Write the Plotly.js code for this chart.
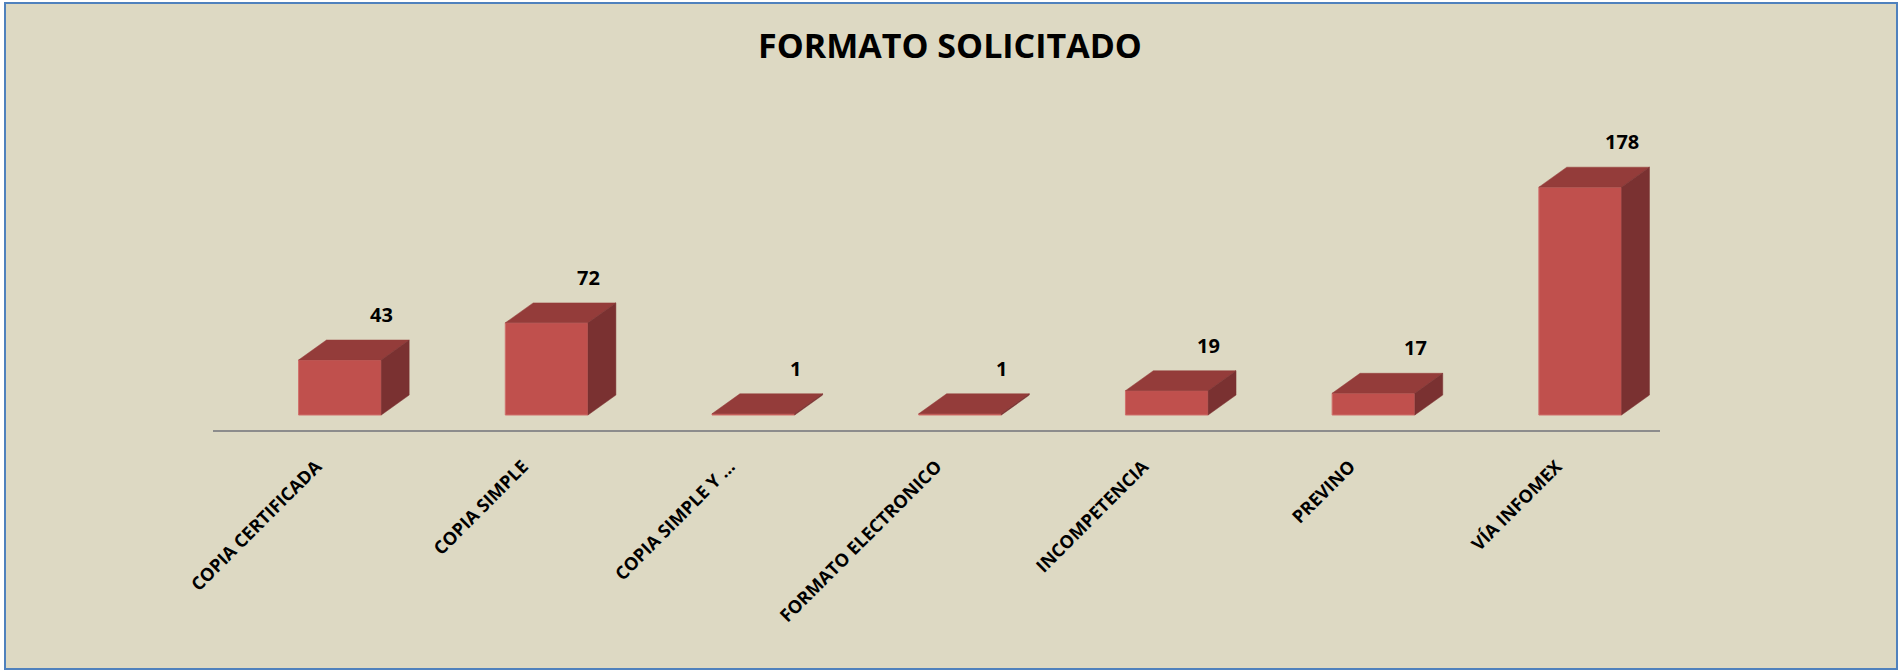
<!DOCTYPE html>
<html>
<head>
<meta charset="utf-8">
<script src="https://cdn.plot.ly/plotly-3.0.1.min.js"></script>
<style>
  html, body { margin: 0; padding: 0; background: #ffffff; }
  #frame { position: absolute; left: 4px; top: 2px; width: 1894px; height: 668px;
           box-sizing: border-box; border: 2px solid #4F81BD; background: #DDD9C3; }
  #chart { width: 1890px; height: 664px; }
</style>
</head>
<body>
<div id="frame"><div id="chart"></div></div>
<script>
// ---- data ----
const categories = ["COPIA CERTIFICADA", "COPIA SIMPLE", "COPIA SIMPLE Y ...", "FORMATO ELECTRONICO", "INCOMPETENCIA", "PREVINO", "VÍA INFOMEX"];
const values = [43, 72, 1, 1, 19, 17, 178];
const chartTitle = "FORMATO SOLICITADO";

// ---- 3D look parameters (in axis units) ----
const FRONT_OFFSET = 0.114;  // front face centre shift from category centre
const FRONT_WIDTH = 0.40;
const DEPTH_X = 0.135;
const DEPTH_Y = 15.6;

const idx = categories.map((_, i) => i);
const frontX = idx.map(i => i + FRONT_OFFSET);

const frontColor = "#C0504D", topColor = "#943C3A", sideColor = "#7A3131";

const topX = [], topY = [], sideX = [], sideY = [];
values.forEach((v, i) => {
  const x0 = frontX[i] - FRONT_WIDTH / 2, x1 = frontX[i] + FRONT_WIDTH / 2;
  topX.push(x0, x1, x1 + DEPTH_X, x0 + DEPTH_X, x0, null);
  topY.push(v, v, v + DEPTH_Y, v + DEPTH_Y, v, null);
  sideX.push(x1, x1 + DEPTH_X, x1 + DEPTH_X, x1, x1, null);
  sideY.push(0, DEPTH_Y, v + DEPTH_Y, v, 0, null);
});

const traces = [
  { type: "bar", x: frontX, y: values, width: FRONT_WIDTH,
    marker: { color: frontColor, line: { color: "#D0706C", width: 1 } },
    hoverinfo: "skip", showlegend: false },
  { type: "scatter", mode: "lines", x: topX, y: topY, fill: "toself",
    fillcolor: topColor, line: { color: topColor, width: 0.5 },
    hoverinfo: "skip", showlegend: false },
  { type: "scatter", mode: "lines", x: sideX, y: sideY, fill: "toself",
    fillcolor: sideColor, line: { color: sideColor, width: 0.5 },
    hoverinfo: "skip", showlegend: false }
];

const annotations = values.map((v, i) => ({
  x: frontX[i] + FRONT_WIDTH / 2 + DEPTH_X / 2 - 0.065, y: v + DEPTH_Y, xref: "x", yref: "y",
  text: String(v), showarrow: false, yanchor: "bottom", yshift: 10,
  font: { family: "Open Sans", size: 20, color: "#000000", weight: "bold" }
}));

const layout = {
  width: 1890, height: 664,
  paper_bgcolor: "#DDD9C3", plot_bgcolor: "rgba(0,0,0,0)",
  margin: { l: 207, r: 236, t: 60, b: 238 },
  title: { text: chartTitle, x: 944 / 1890, xref: "container", xanchor: "center",
           y: 1 - 42 / 664, yref: "container", yanchor: "middle",
           font: { family: "Open Sans", size: 34, color: "#000000", weight: "bold" } },
  xaxis: { range: [-0.5, 6.5], tickmode: "array", tickvals: idx, ticktext: categories,
           tickangle: -45, showgrid: false, zeroline: false, showline: true,
           linecolor: "#8C8C8C", linewidth: 2, ticks: "", ticklabelstandoff: 17,
           tickfont: { family: "Open Sans", size: 18, color: "#000000", weight: "bold" },
           fixedrange: true },
  yaxis: { range: [-11.7, 274.2], showgrid: false, zeroline: false, showline: false,
           showticklabels: false, ticks: "", fixedrange: true },
  annotations: annotations,
  bargap: 0
};

Plotly.newPlot("chart", traces, layout, { displayModeBar: false, staticPlot: true });
</script>
</body>
</html>
